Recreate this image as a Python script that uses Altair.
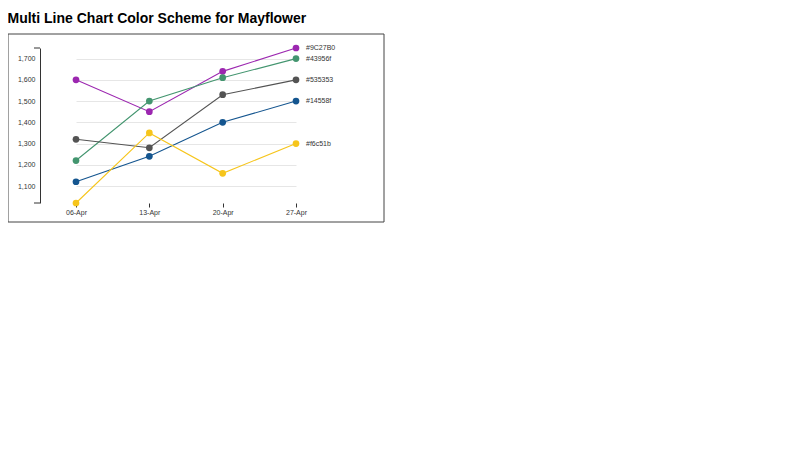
import altair as alt
import pandas as pd

dates = ["06-Apr", "13-Apr", "20-Apr", "27-Apr"]
series_names = ["#9C27B0", "#43956f", "#535353", "#14558f", "#f6c51b"]
purple = [1600, 1450, 1640, 1750]
green = [1220, 1500, 1610, 1700]
gray = [1320, 1280, 1530, 1600]
blue = [1120, 1240, 1400, 1500]
yellow = [1020, 1350, 1160, 1300]
y_ticks = [1100, 1200, 1300, 1400, 1500, 1600, 1700]

values = [purple, green, gray, blue, yellow]
rows = []
for name, vals in zip(series_names, values):
    for d, v in zip(dates, vals):
        rows.append({"series": name, "date": d, "value": v})
df = pd.DataFrame(rows)

all_vals = [v for vals in values for v in vals]
ymin, ymax = min(all_vals), max(all_vals)
ends = pd.DataFrame({"value": [ymin, ymax]})

FONT = "Liberation Sans"

xenc = alt.X(
    "date:O",
    sort=dates,
    scale=alt.Scale(type="point", range=[36, 256], padding=0),
    axis=alt.Axis(
        title=None, domain=False, ticks=True, tickSize=4, tickColor="#333",
        labelAngle=0, labelFontSize=7, labelFont=FONT, labelColor="#333",
        labelPadding=1, grid=False,
    ),
)
yscale = alt.Scale(domain=[ymin, ymax], nice=False, zero=False)
yaxis = alt.Axis(
    title=None, domain=True, domainColor="#333", ticks=False,
    values=y_ticks, format=",d", labelOverlap=False,
    labelFontSize=7, labelFont=FONT, labelColor="#333",
    labelPadding=5, grid=True, gridColor="#e6e6e6",
)
yenc = alt.Y("value:Q", scale=yscale, axis=yaxis)
color = alt.Color("series:N", scale=alt.Scale(domain=series_names, range=series_names), legend=None)

base = alt.Chart(df)
lines = base.mark_line(strokeWidth=1.1).encode(x=xenc, y=yenc, color=color, detail="series:N")
points = base.mark_circle(size=45, opacity=1).encode(x=xenc, y=yenc, color=color)
labels = base.transform_filter(alt.datum.date == dates[-1]).mark_text(
    align="left", baseline="middle", dx=10, fontSize=7, font=FONT, color="#333"
).encode(x=xenc, y=yenc, text="series:N")

caps = alt.Chart(ends).mark_rule(color="#333", strokeWidth=1).encode(
    y=alt.Y("value:Q", scale=yscale, axis=yaxis), x=alt.value(-6), x2=alt.value(0)
)
border = alt.Chart(alt.Data(values=[{"a": 1}])).mark_rect(
    fill=None, stroke="#444", strokeWidth=1
).encode(x=alt.value(-32), x2=alt.value(344), y=alt.value(-14), y2=alt.value(174))

chart = alt.layer(border, lines, points, labels, caps).properties(
    width=256,
    height=155,
    title=alt.TitleParams(
        "Multi Line Chart Color Scheme for Mayflower",
        anchor="start", fontSize=14, font=FONT, fontWeight="bold", color="#000", offset=8,
    ),
    autosize=alt.AutoSizeParams(type="none"),
    padding={"left": 32, "top": 40, "right": 120, "bottom": 40},
).configure_view(stroke=None)

chart.save("out.html", embed_options={"renderer": "svg", "actions": False})
